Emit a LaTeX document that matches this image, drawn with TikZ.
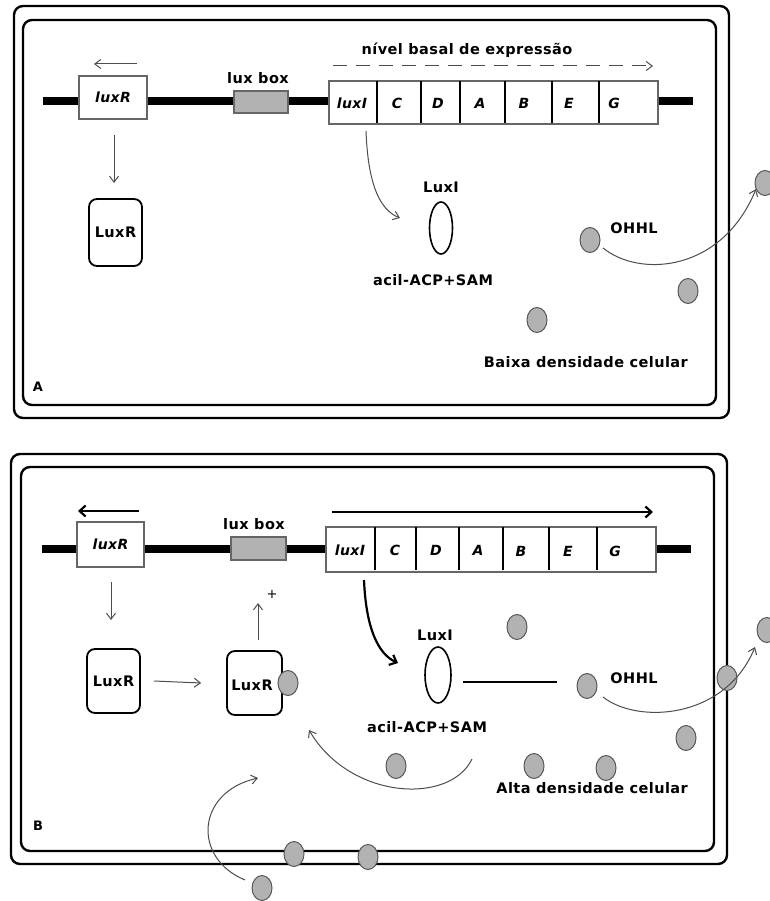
\documentclass[tikz,border=0pt]{standalone}
\usepackage{fontspec}
\setmainfont{DejaVu Sans}
\newfontfamily\lblfont{DejaVu Sans}[LetterSpace=3]
\usetikzlibrary{arrows.meta,shapes.geometric}
\begin{document}
\begin{tikzpicture}[x=1pt,y=-1pt,
  panel/.style={line width=2.4pt, rounded corners=9pt},
  bar/.style={line width=8pt},
  genebox/.style={draw=black!60, line width=1.3pt, fill=white, inner sep=0pt},
  divider/.style={line width=2pt},
  luxbox/.style={draw=black!60, line width=1.3pt, fill=black!30, inner sep=0pt},
  protein/.style={draw, line width=1.8pt, rounded corners=8pt, inner sep=0pt, fill=white},
  mol/.style={ellipse, draw=black!65, line width=1pt, fill=black!30, minimum width=20pt, minimum height=25pt, inner sep=0pt},
  enzyme/.style={ellipse, draw, line width=1.6pt, minimum width=23pt, minimum height=52pt, inner sep=0pt},
  thinarr/.style={draw=black!70, line width=1pt, -{Straight Barb[length=6pt,width=9pt]}},
  thickarr/.style={line width=2.2pt, -{Straight Barb[length=6pt,width=11pt]}},
  lbl/.style={font=\lblfont\bfseries\fontsize{14.5}{16}\selectfont, inner sep=0pt},
  gene/.style={font=\lblfont\bfseries\itshape\fontsize{14}{16}\selectfont, inner sep=0pt},
  panellbl/.style={font=\lblfont\bfseries\fontsize{13}{14}\selectfont, inner sep=0pt}
]
\useasboundingbox (0,0) rectangle (769,901);

% ================= Panel A =================
\draw[panel] (14,6) rectangle (729,418);
\draw[panel] (23,20) rectangle (716,405);
\coordinate (barAL) at (43,101);
\coordinate (barAR) at (693,101);
\draw[bar] (barAL) -- (barAR);
\node[genebox, gene, minimum width=68pt, minimum height=43pt] (luxRgA) at (113,97.5) {luxR};
\node[luxbox, minimum width=54pt, minimum height=22pt] (boxA) at (261,102) {};
\node[lbl] (boxAl) at (258,78) {lux box};
\node[genebox, minimum width=329pt, minimum height=43pt] (operonA) at (493.5,102.5) {};
\foreach \x in {377,421,460,505,552,599} \draw[divider] (\x,81) -- (\x,123);
\node[gene] (gAi) at (352,103) {luxI};
\node[gene] (gAc) at (397,103) {C};
\node[gene] (gAd) at (438,103) {D};
\node[gene] (gAa) at (480,103) {A};
\node[gene] (gAb) at (524,103) {B};
\node[gene] (gAe) at (569,103) {E};
\node[gene] (gAg) at (614,103) {G};

\coordinate (arA1) at (137,64);
\coordinate (arA2) at (94,64);
\draw[thinarr] (arA1) -- (arA2);
\coordinate (daA1) at (333,66);
\coordinate (daA2) at (653,66);
\draw[thinarr, dash pattern=on 14pt off 9pt] (daA1) -- (daA2);
\node[lbl] (basalA) at (467,50) {nível basal de expressão};

\node[protein, lbl, minimum width=53pt, minimum height=67pt] (LuxRA) at (115.5,232.5) {LuxR};
\coordinate (tA1) at (114,135);
\coordinate (tA2) at (114,183);
\draw[thinarr] (tA1) -- (tA2);

\node[lbl] (LuxIlA) at (441,187) {LuxI};
\node[enzyme] (LuxIA) at (441,228) {};
\node[lbl] (acilA) at (433,280) {acil-ACP+SAM};
\coordinate (cA1) at (366,131);
\coordinate (cA2) at (400,218);
\draw[thinarr] (cA1) .. controls (368,185) and (380,210) .. (cA2);

\node[mol] (mA1) at (590,240) {};
\node[mol] (mA2) at (688,291) {};
\node[mol] (mA3) at (537,320) {};
\node[mol] (mA4) at (765,183) {};
\node[lbl] (OHHLA) at (634,228) {OHHL};
\coordinate (oA1) at (603,248);
\coordinate (oA2) at (756,189);
\draw[thinarr] (oA1) .. controls (640,278) and (722,272) .. (oA2);
\node[lbl, anchor=east] (baixa) at (688,362) {Baixa densidade celular};
\node[panellbl] (labA) at (38,387) {A};

% ================= Panel B =================
\draw[panel] (11,454) rectangle (727,864);
\draw[panel] (21,467) rectangle (714,851);
\coordinate (barBL) at (42,549);
\coordinate (barBR) at (691,549);
\draw[bar] (barBL) -- (barBR);
\node[genebox, gene, minimum width=67pt, minimum height=45pt] (luxRgB) at (110.5,544.5) {luxR};
\node[luxbox, minimum width=55pt, minimum height=23pt] (boxB) at (258.5,548.5) {};
\node[lbl] (boxBl) at (254,524) {lux box};
\node[genebox, minimum width=330pt, minimum height=45pt] (operonB) at (491,549.5) {};
\foreach \x in {375,416,459,503,549,597} \draw[divider] (\x,527) -- (\x,570);
\node[gene] (gBi) at (350,550) {luxI};
\node[gene] (gBc) at (395,550) {C};
\node[gene] (gBd) at (436,550) {D};
\node[gene] (gBa) at (478,550) {A};
\node[gene] (gBb) at (521,551) {B};
\node[gene] (gBe) at (568,551) {E};
\node[gene] (gBg) at (615,551) {G};

\coordinate (arB1) at (139,511);
\coordinate (arB2) at (78,511);
\draw[thickarr] (arB1) -- (arB2);
\coordinate (daB1) at (332,512);
\coordinate (daB2) at (653,512);
\draw[thickarr] (daB1) -- (daB2);

\node[protein, lbl, minimum width=53pt, minimum height=64pt] (LuxRB1) at (113.5,681) {LuxR};
\node[protein, minimum width=55pt, minimum height=64pt] (LuxRB2) at (254.5,683) {};
\node[mol] (mLR) at (288,683) {};
\node[lbl] (LuxRB2t) at (252,685) {LuxR};
\coordinate (tB1) at (111,582);
\coordinate (tB2) at (111,620);
\draw[thinarr] (tB1) -- (tB2);
\draw[thinarr] ([xshift=13pt]LuxRB1.east) -- ([xshift=-25pt]LuxRB2.west);
\coordinate (upB1) at (258,640);
\coordinate (upB2) at (258,603);
\draw[thinarr] (upB1) -- (upB2);
\node[font=\fontsize{13}{14}\selectfont, inner sep=0pt] (plus) at (272,594) {+};

\node[lbl] (LuxIlB) at (435,635) {LuxI};
\node[enzyme, minimum height=56pt, minimum width=26pt] (LuxIB) at (438,675) {};
\node[lbl] (acilB) at (427,727) {acil-ACP+SAM};
\coordinate (cB1) at (364,580);
\coordinate (cB2) at (398,663);
\draw[thickarr] (cB1) .. controls (366,628) and (378,654) .. (cB2);
\coordinate (lnB1) at (463,682);
\coordinate (lnB2) at (557,682);
\draw[line width=2pt] (lnB1) -- (lnB2);

\node[mol] (mB1) at (517,627) {};
\node[mol] (mB2) at (587,686) {};
\node[mol] (mB3) at (396,766) {};
\node[mol] (mB4) at (534,766) {};
\node[mol] (mB5) at (606,768) {};
\node[mol] (mB6) at (686,738) {};
\node[mol] (mB7) at (727,678) {};
\node[mol] (mB8) at (767,630) {};
\node[mol] (mB9) at (294,854) {};
\node[mol] (mB10) at (368,857) {};
\node[mol] (mB11) at (262,888) {};

\node[lbl] (OHHLB) at (634,678) {OHHL};
\coordinate (oB1) at (603,697);
\coordinate (oB2) at (755,647);
\draw[thinarr] (oB1) .. controls (637,724) and (725,720) .. (oB2);

\coordinate (rB1) at (472,759);
\coordinate (rB2) at (309,730);
\draw[thinarr] (rB1) .. controls (450,805) and (350,800) .. (rB2);

\coordinate (bB1) at (245,880);
\coordinate (bB2) at (258,778);
\draw[thinarr] (bB1) .. controls (192,858) and (196,792) .. (bB2);

\node[lbl, anchor=east] (alta) at (688,788) {Alta densidade celular};
\node[panellbl] (labB) at (38,826) {B};
\end{tikzpicture}
\end{document}
